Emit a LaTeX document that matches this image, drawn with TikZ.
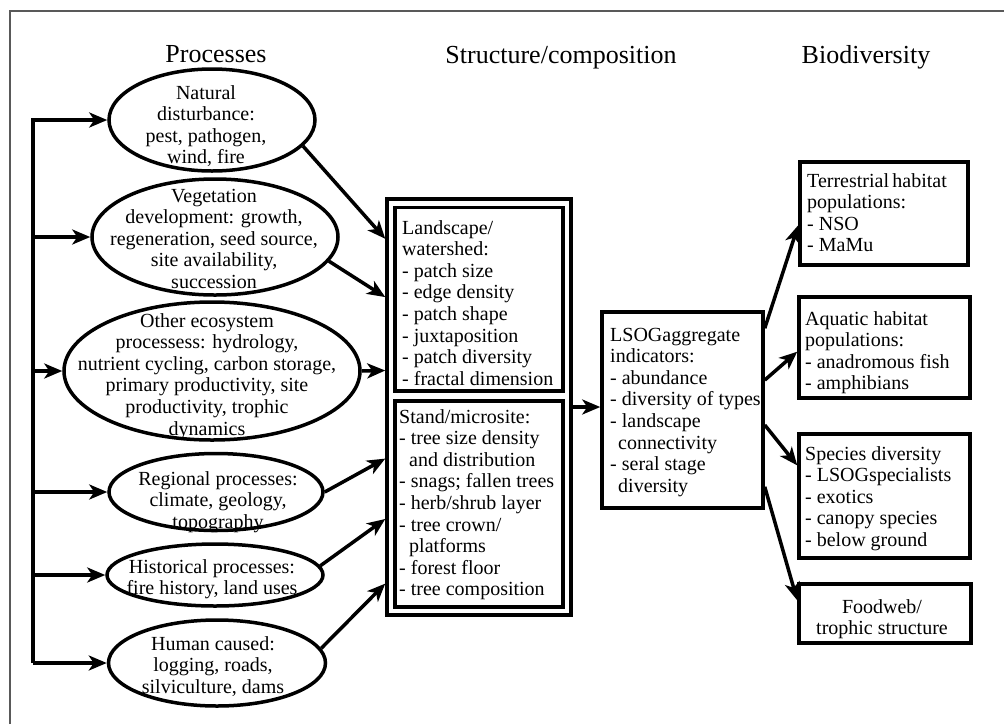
\documentclass[tikz,border=0pt]{standalone}
\usepackage{fontspec}
\setmainfont{Liberation Serif}
\usetikzlibrary{arrows.meta,shapes.geometric,calc}
\begin{document}
\begin{tikzpicture}[x=1pt,y=-1pt,
  ell/.style={ellipse, draw, line width=3.5pt, inner sep=0pt},
  box/.style={rectangle, draw, line width=3.5pt, inner sep=0pt},
  txt/.style={inner sep=0pt, font=\fontsize{20}{21.6}\selectfont},
  ttl/.style={inner sep=0pt, font=\fontsize{26}{30}\selectfont, anchor=base},
  con/.style={line width=3.5pt, line join=miter},
  arr/.style={line width=3.5pt, line join=miter, -{Stealth[length=18pt,width=15pt,inset=5pt]}}
]
\useasboundingbox (0,0) rectangle (1004,724);
\fill[white] (0,0) rectangle (1004,724);
% frame
\draw[gray!70!black, line width=1.3pt] (10,724) -- (10,11) -- (1004,11);

% titles
\node[ttl] (tproc) at (216,62) {Processes};
\node[ttl] (tstruct) at (561,63) {Structure/composition};
\node[ttl] (tbio) at (866,63) {Biodiversity};

% ellipses
\node[ell, minimum width=206, minimum height=102] (e1) at (212,120) {};
\node[ell, minimum width=246, minimum height=116] (e2) at (215,237) {};
\node[ell, minimum width=296, minimum height=138] (e3) at (212,371) {};
\node[ell, minimum width=214, minimum height=77] (e4) at (216,492) {};
\node[ell, minimum width=216, minimum height=62] (e5) at (215,575) {};
\node[ell, minimum width=217, minimum height=86] (e6) at (217,663) {};

% texts: anchor=base is the baseline of the last line
\node[txt, align=center, anchor=base] (t1) at (206,163.8) {Natural\\disturbance:\\pest, pathogen,\\wind, fire};
\node[txt, align=center, anchor=base] (t2) at (214,288.4) {Vegetation\\development: growth,\\regeneration, seed source,\\site availability,\\succession};
\node[txt, align=center, anchor=base] (t3) at (207,435) {Other ecosystem\\processess: hydrology,\\nutrient cycling, carbon storage,\\primary productivity, site\\productivity, trophic\\dynamics};
\node[txt, align=center, anchor=base] (t4) at (218,528.2) {Regional processes:\\climate, geology,\\topography};
\node[txt, align=center, anchor=base] (t5) at (212,594.6) {Historical processes:\\fire history, land uses};
\node[txt, align=center, anchor=base] (t6) at (213,693.2) {Human caused:\\logging, roads,\\silviculture, dams};

% middle boxes
\node[box, minimum width=184, minimum height=416] (outer) at (479,407) {};
\node[box, minimum width=168, minimum height=183.5] (land) at (479,299.25) {};
\node[box, minimum width=168, minimum height=206] (stand) at (479,504) {};
\node[txt, align=left, anchor=base west] (landt) at (402,385.2) {Landscape/\\watershed:\\- patch size\\- edge density\\- patch shape\\- juxtaposition\\- patch diversity\\- fractal dimension};
\node[txt, align=left, anchor=base west] (standt) at (399,595.8) {Stand/microsite:\\- tree size density\\\hspace*{10pt}and distribution\\- snags; fallen trees\\- herb/shrub layer\\- tree crown/\\\hspace*{10pt}platforms\\- forest floor\\- tree composition};

% LSOG box
\node[box, minimum width=161, minimum height=196] (lsog) at (682.5,410) {};
\node[txt, align=left, anchor=base west] (lsogt) at (610,492.2) {LSOGaggregate\\indicators:\\- abundance\\- diversity of types\\- landscape\\\hspace*{8pt}connectivity\\- seral stage\\\hspace*{8pt}diversity};

% right boxes
\node[box, minimum width=168, minimum height=103] (r1) at (884,213.5) {};
\node[box, minimum width=171, minimum height=101] (r2) at (884.5,347.5) {};
\node[box, minimum width=171, minimum height=124] (r3) at (884.5,496) {};
\node[box, minimum width=172, minimum height=59] (r4) at (885,613.5) {};
\node[txt, align=left, anchor=base west] (r1t) at (807,251.8) {Terrestrial\,habitat\\populations:\\- NSO\\- MaMu};
\node[txt, align=left, anchor=base west] (r2t) at (805,389.8) {Aquatic habitat\\populations:\\- anadromous fish\\- amphibians};
\node[txt, align=left, anchor=base west] (r3t) at (805,546.4) {Species diversity\\- LSOGspecialists\\- exotics\\- canopy species\\- below ground};
\node[txt, align=center, anchor=base] (r4t) at (882,634.6) {Foodweb/\\trophic structure};

% bus on the left
\coordinate (bus) at (33,0);
\draw[arr] (bus |- e6.west) -- (bus |- e1.west) -- (e1.west);
\draw[arr] (bus |- e2.west) -- (e2.west);
\draw[arr] (bus |- e3.west) -- (e3.west);
\draw[arr] (bus |- e4.west) -- (e4.west);
\draw[arr] (bus |- e5.west) -- (e5.west);
\draw[arr] (bus |- e6.west) -- (e6.west);

% ellipses to middle box
\draw[arr] (e1.-16) -- ($(outer.north west)!0.099!(outer.south west)$);
\draw[arr] (e2.-12) -- ($(outer.north west)!0.238!(outer.south west)$);
\draw[arr] (e3.east) -- ($(outer.north west)!0.413!(outer.south west)$);
\draw[arr] (e4.east) -- ($(outer.north west)!0.623!(outer.south west)$);
\draw[arr] (e5.5) -- ($(outer.north west)!0.767!(outer.south west)$);
\draw[arr] (e6.8) -- ($(outer.north west)!0.921!(outer.south west)$);

% middle to LSOG
\draw[arr] (outer.east) -- (outer.east -| lsog.west);

% LSOG to right boxes
\draw[arr] ($(lsog.north east)!0.09!(lsog.south east)$) -- ($(r1.north west)!0.61!(r1.south west)$);
\draw[arr] ($(lsog.north east)!0.35!(lsog.south east)$) -- ($(r2.north west)!0.54!(r2.south west)$);
\draw[arr] ($(lsog.north east)!0.575!(lsog.south east)$) -- ($(r3.north west)!0.26!(r3.south west)$);
\draw[arr] ($(lsog.north east)!0.885!(lsog.south east)$) -- ($(r4.north west)!0.29!(r4.south west)$);
\end{tikzpicture}
\end{document}
